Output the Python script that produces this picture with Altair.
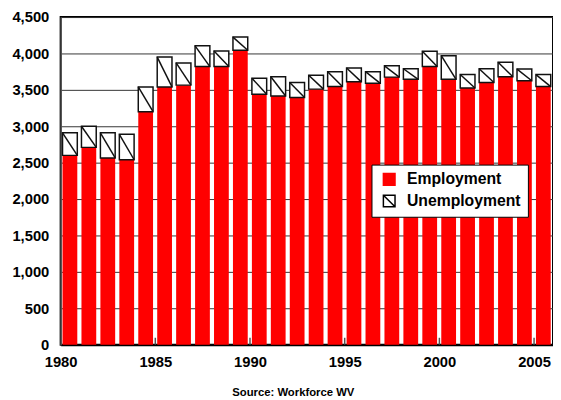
import altair as alt
import pandas as pd

years = list(range(1980, 2006))
employment = [2600, 2710, 2565, 2540, 3200, 3540, 3565, 3820, 3820, 4045,
              3440, 3415, 3395, 3510, 3545, 3610, 3590, 3675, 3645, 3820,
              3645, 3525, 3600, 3680, 3625, 3545]
unemployment = [310, 290, 345, 350, 340, 410, 305, 285, 215, 180,
                220, 265, 205, 190, 205, 190, 160, 155, 145, 210,
                325, 185, 190, 200, 160, 165]
series = ["Employment", "Unemployment"]
x_tick_values = [1980, 1985, 1990, 1995, 2000, 2005]
y_tick_values = list(range(0, 4501, 500))
source_text = "Source: Workforce WV"

df = pd.DataFrame({"year": years, "employment": employment, "unemployment": unemployment})

FONT = "Liberation Sans"
xscale = alt.Scale(domain=[1980, 2006], nice=False, zero=False)
yscale = alt.Scale(domain=[0, 4500], nice=False)

xaxis = alt.Axis(values=x_tick_values, format="d", grid=False, ticks=False,
                 labelPadding=10, labelFontSize=15, labelFontWeight="bold",
                 labelColor="black", labelFont=FONT, labelFlush=False,
                 domainColor="black", domainWidth=2,
                 title=source_text, titleFont=FONT, titleFontSize=11.5,
                 titleFontWeight="bold", titleColor="black", titlePadding=18,
                 titleX=236, titleAlign="center")
yaxis = alt.Axis(values=y_tick_values, format=",d", ticks=False, labelPadding=12,
                 labelFontSize=15, labelFontWeight="bold", labelColor="black",
                 labelFont=FONT, labelOverlap=False, domainColor="#555", domainWidth=1.5,
                 gridColor="#333", gridWidth=1, title=None)

base = alt.Chart(df).transform_calculate(
    x0="datum.year + 0.1",
    x1="datum.year + 0.88",
    total="datum.employment + datum.unemployment",
)

X = alt.X("x0:Q", scale=xscale, axis=xaxis)

emp = base.mark_rect(color="#FF0000").encode(
    x=X,
    x2="x1:Q",
    y=alt.Y("employment:Q", scale=yscale, axis=yaxis),
    y2=alt.datum(0),
)

unemp = base.mark_rect(fill="white", stroke="#111", strokeWidth=1.5).encode(
    x=X, x2="x1:Q",
    y=alt.Y("total:Q", scale=yscale, axis=yaxis), y2="employment:Q"
)

diag = base.mark_rule(color="#111", strokeWidth=1.5).encode(
    x=X, x2="x1:Q",
    y=alt.Y("total:Q", scale=yscale, axis=yaxis), y2="employment:Q"
)

ticks = alt.Chart(pd.DataFrame({"year": x_tick_values[1:]})).mark_rule(
    color="#555", strokeWidth=1.5
).encode(x=alt.X("year:Q", scale=xscale, axis=xaxis), y=alt.value(333), y2=alt.value(326))

legend_def = alt.Legend(
    title=None, orient="none", legendX=316, legendY=150,
    labelFont=FONT, labelFontSize=16, labelFontWeight="bold", labelColor="black",
    symbolSize=140, symbolStrokeWidth=1.5, symbolOpacity=1,
    strokeColor="black", fillColor="white",
    padding=7, rowPadding=4, labelOffset=10, symbolOffset=3,
)
paths = ["M-1,-1H1V1H-1Z", "M-1,-1H1V1H-1Z M-1,-1L1,1"]
leg = alt.Chart(pd.DataFrame({"series": series})).transform_filter("false").mark_point(
    filled=True, opacity=1
).encode(
    fill=alt.Fill("series:N", scale=alt.Scale(domain=series, range=["#FF0000", "white"]), legend=legend_def),
    stroke=alt.Stroke("series:N", scale=alt.Scale(domain=series, range=["#FF0000", "black"]), legend=legend_def),
    shape=alt.Shape("series:N", scale=alt.Scale(domain=series, range=paths), legend=legend_def),
)

chart = alt.layer(emp, unemp, diag, ticks, leg).properties(
    width=500.5, height=333,
    autosize=alt.AutoSizeParams(type="none"),
    padding={"left": 53.5, "top": 6, "right": 0, "bottom": 50},
).configure(font=FONT).configure_view(stroke="black", strokeWidth=2)

chart.save("out.html", embed_options={"renderer": "svg", "actions": False})
